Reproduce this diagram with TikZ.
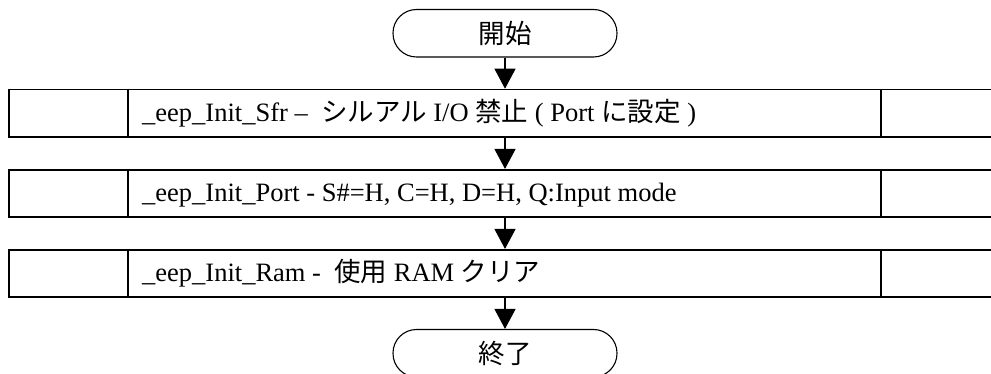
\documentclass[tikz,border=0pt]{standalone}
\usepackage{fontspec}
\setmainfont{Liberation Serif}
\newfontfamily\jp{Noto Sans CJK JP}
\usetikzlibrary{arrows.meta}
\tikzset{
  term/.style={draw, line width=1.1pt, rectangle, rounded corners=23.5pt,
    minimum width=224pt, minimum height=47.5pt, inner sep=0pt,
    font=\fontsize{26.5}{30}\selectfont\jp},
  procbox/.style={draw, line width=1.6pt, rectangle, minimum width=991pt,
    minimum height=47.5pt, inner sep=0pt},
  divline/.style={line width=1.6pt},
  label/.style={anchor=base west, inner sep=0pt, font=\fontsize{26.5}{30}\selectfont},
  flow/.style={line width=1.3pt, -{Triangle[width=21pt,length=20pt]}}
}
\begin{document}
\begin{tikzpicture}[x=1pt,y=-1pt]
\useasboundingbox (0,0) rectangle (991,374);
\clip (0,0) rectangle (991,374);
% terminals
\node[term] (start) at (505,33.25) {開始};
\node[term] (stop) at (505,353.25) {終了};
% process boxes
\node[procbox] (b1) at (504.5,113.25) {};
\node[procbox] (b2) at (504.5,193.5) {};
\node[procbox] (b3) at (504.5,273.5) {};
\foreach \b in {b1,b2,b3}{
  \draw[divline] ([xshift=120pt]\b.north west) -- ([xshift=120pt]\b.south west);
  \draw[divline] ([xshift=873pt]\b.north west) -- ([xshift=873pt]\b.south west);
}
% labels
\node[label] (t1) at (142,122) {\_eep\_Init\_Sfr – \ {\jp シルアル} I/O {\jp 禁止} ( Port {\jp に設定} )};
\node[label] (t2) at (142,202) {\_eep\_Init\_Port - S\#=H, C=H, D=H, Q:Input mode};
\node[label] (t3) at (142,282) {\_eep\_Init\_Ram - \ {\jp 使用} RAM {\jp クリア}};
% connectors
\draw[flow] (start.south) -- (start.south |- b1.north);
\draw[flow] (start.south |- b1.south) -- (start.south |- b2.north);
\draw[flow] (start.south |- b2.south) -- (start.south |- b3.north);
\draw[flow] (start.south |- b3.south) -- (stop.north);
\end{tikzpicture}
\end{document}
